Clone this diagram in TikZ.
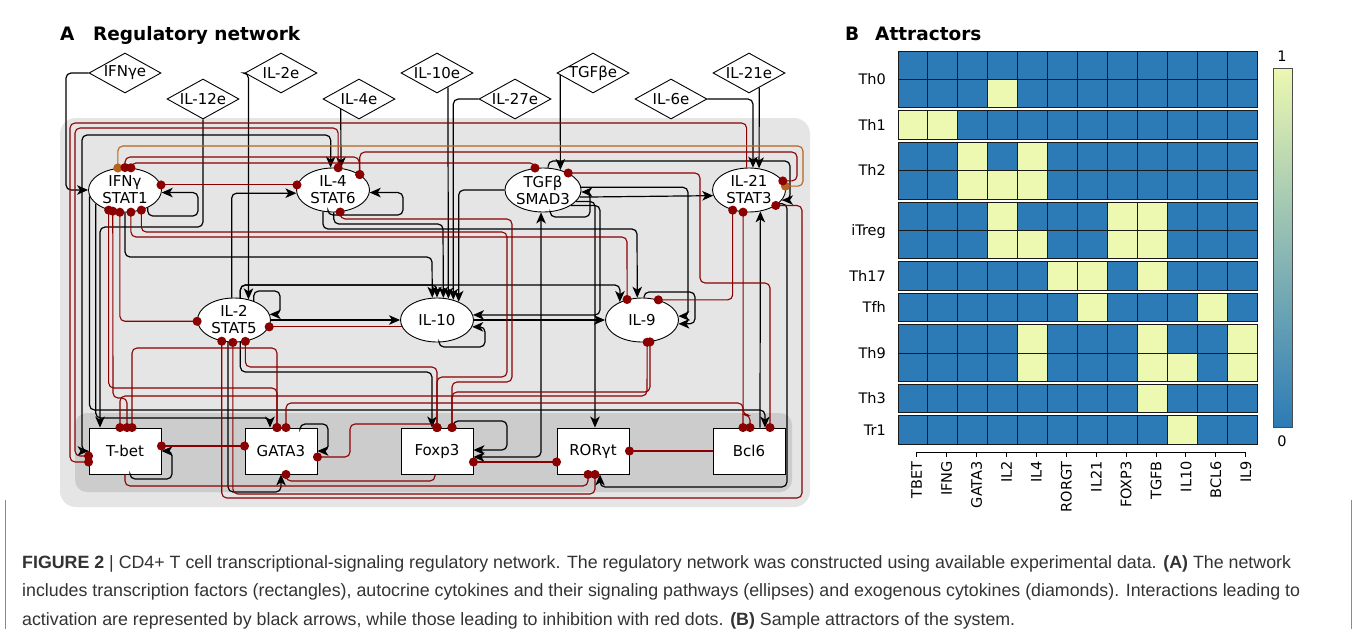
\documentclass[tikz,border=0pt]{standalone}
\usepackage{fontspec}
\setmainfont{DejaVu Sans}
\newfontfamily\capfont{Liberation Sans}
\usetikzlibrary{arrows.meta,shapes.geometric,calc}
\definecolor{inhred}{HTML}{8B0000}
\definecolor{orng}{HTML}{B5651D}
\definecolor{hblue}{RGB}{44,123,182}
\definecolor{hyel}{RGB}{237,248,177}
\definecolor{bgl}{RGB}{229,229,229}
\definecolor{bgd}{RGB}{204,204,204}
\definecolor{captxt}{RGB}{51,51,51}
\newcommand{\dlab}[1]{\makebox[40pt]{#1}}
\begin{document}
\begin{tikzpicture}[x=1pt,y=-1pt,
  >={Stealth[length=11pt,width=9.5pt,inset=3pt]},
  lab/.style={font=\fontsize{15}{17}\selectfont},
  ell/.style={ellipse,draw,line width=0.9pt,fill=white,minimum width=73pt,minimum height=44pt,inner sep=0pt,align=center,lab},
  rct/.style={rectangle,draw,line width=0.9pt,fill=white,minimum width=72pt,minimum height=46pt,inner sep=0pt,lab},
  dia/.style={diamond,draw,line width=0.9pt,fill=white,aspect=1.8,minimum width=72pt,minimum height=40pt,inner sep=0pt,lab},
  act/.style={draw=black,line width=1.2pt,rounded corners=5pt,->},
  actb/.style={act,<->},
  inh/.style={draw=inhred,line width=1.1pt,rounded corners=5pt,-{Circle[length=9pt]},shorten >=-4.5pt},
  inhb/.style={inh,{Circle[length=9pt]}-{Circle[length=9pt]},shorten <=-4.5pt},
  org/.style={inhb,draw=orng},
  hlab/.style={font=\fontsize{14.5}{16}\selectfont,inner sep=0pt},
  hgrid/.style={draw=black!90,line width=1pt},
  ttl/.style={anchor=base west,inner sep=0pt,font=\bfseries\fontsize{18.5}{20}\selectfont},
  captxtstyle/.style={anchor=base west,inner sep=0pt,text=captxt,font=\capfont\fontsize{17.8}{20}\selectfont}
]
\useasboundingbox (0,0) rectangle (1357,629);
\fill[white] (0,0) rectangle (1357,629);

% ---------- panel A background
\fill[bgl, rounded corners=16pt] (60,118) rectangle (810,507);
\fill[bgd, rounded corners=12pt] (75,413) rectangle (792,492);

% ---------- titles
\node[ttl] (tA) at (60,40.7) {A};
\node[ttl] (tAt) at (93,40.7) {Regulatory network};
\node[ttl] (tB) at (845,40.7) {B};
\node[ttl] (tBt) at (875,40.7) {Attractors};

% ---------- nodes
\node[dia] (ifnge) at (125,73) {\dlab{IFNγe}};
\node[dia] (il12e) at (203,99) {\dlab{IL-12e}};
\node[dia] (il2e)  at (281,73) {\dlab{IL-2e}};
\node[dia] (il4e)  at (359,99) {\dlab{IL-4e}};
\node[dia] (il10e) at (437,73) {\dlab{IL-10e}};
\node[dia] (il27e) at (515,99) {\dlab{IL-27e}};
\node[dia] (tgfbe) at (593,73) {\dlab{TGFβe}};
\node[dia] (il6e)  at (671,99) {\dlab{IL-6e}};
\node[dia] (il21e) at (749,73) {\dlab{IL-21e}};

\node[ell] (ifng) at (125,190) {IFNγ\\STAT1};
\node[ell] (il4)  at (333,190) {IL-4\\STAT6};
\node[ell] (tgfb) at (543,190) {TGFβ\\SMAD3};
\node[ell] (il21) at (749,190) {IL-21\\STAT3};
\node[ell] (il2)  at (234,320) {IL-2\\STAT5};
\node[ell] (il10) at (437,320) {IL-10};
\node[ell] (il9)  at (642,320) {IL-9};

\node[rct] (tbet)  at (125,451) {T-bet};
\node[rct] (gata3) at (281,451) {GATA3};
\node[rct] (foxp3) at (437,451) {Foxp3};
\node[rct] (rorgt) at (593,451) {RORγt};
\node[rct] (bcl6)  at (749,451) {Bcl6};

% ---------- activation edges
\draw[act] (ifnge.west) -- (66,73) -- (66,190) -- (ifng.west);
\draw[act] (il12e.south) -- (203,227) -- (100,227) -- ([xshift=-25pt]tbet.north);
\draw[act] (ifng.-38.6) |- (198,216) |- (ifng.-4.7);
\draw[act] (il2e.west) -| (il2.55.4);
\draw[act] (il4e.south west) -- (il4.70);
\draw[act] ($(il10e.south)!0.3!(il10e.east)$) -- (il10.62.3);
\draw[act] (il27e.west) -| (il10.51);
\draw[act] ($(tgfbe.west)!0.1!(tgfbe.south)$) -- (tgfb.49);
\draw[act] (il6e.east) -| (il21.80);
\draw[act] ($(il21e.south)!0.28!(il21e.east)$) -- (il21.65);
\draw[act] (il4.-103) |- (403,215) |- (il4.-4.7);
\draw[act] (il4.-115) |- (637,229) -- (il9.102.9);
\draw[act] (ifng.-90) |- (432,257) -- (il10.102.9);
\draw[actb] (il4.96) |- (82,135) |- (tbet.west);
\draw[act] (tgfb.77) |- (790,161) |- (il21.-17.1);
\draw[act] (ifng.-155) |- (270,418) -- ([xshift=-11pt]gata3.north);
\draw[act] (ifng.-170) |- (765,410) -- ([xshift=16pt]bcl6.north);
\draw[act] (il2.44.7) |- (280,291) |- (il2.9.7);
\draw[act] (il2.east) -- (il10.west);
\draw[act] (il2.74.5) |- (620,285) -- (il9.141.4);
\draw[act] (il2.74.5) |- (437,285) -- (il10.90);
\draw[act] (il2.-105.5) |- (281,492) -- (gata3.south);
\draw[act] (il2.-74.5) |- (432,372) -- ([xshift=-5pt]foxp3.north);
\draw[act] ([xshift=19pt]gata3.north) |- (328,424) |- (gata3.east);
\draw[act] ([xshift=5pt]tbet.south) |- (172,479) |- (tbet.east);
\draw[act] ([xshift=16pt]foxp3.north) |- (507,421) |- ([yshift=1pt]foxp3.east);
\draw[actb] (tgfb.-95) |- ([yshift=-6pt]foxp3.east);
\draw[act] (tgfb.-72) |- (590,217) |- (tgfb.-3);
\draw[act] (tgfb.-19.2) -| ([xshift=2pt]rorgt.north);
\draw[act] (tgfb.-11.4) -- (il21.189);
\draw[act] (il10.east) -- (il9.west);
\draw[act] (tgfb.-29.3) -| (600,315) -- (il10.8);
\draw[act] (il10.-85.3) |- (485,347) |- (il10.-11.4);
\draw[act] (tgfb.west) -| (il10.40.6);
\draw[act] (tgfb.4.7) -| (688,316) -- (il9.6.3);
\draw[act] (il9.85.3) |- (695,292) |- (il9.-6.3);
\draw[act] ([xshift=11pt]bcl6.north) -- (il21.-62.3);
\draw[act] (il21.-25) -| (787,487) -| ([xshift=7pt]rorgt.south);
\draw[act] (il2.96) |- (il4.185);
\draw[act] (il4.-88) |- (443,224) -- (il10.74.5);

% ---------- inhibition edges
\draw[inhb] (ifng.8) -- (il4.172);
\draw[inh] (il21.96) |- (70,123) |- ([yshift=-11pt]tbet.west);
\draw[inhb] (il4.77) |- (75,128) |- ([yshift=-5pt]tbet.west);
\draw[org] (ifng.108) |- (803,146) |- (il21.6.3);
\draw[inhb] (ifng.90) |- (359,157) -- (il4.30.7);
\draw[inhb] (il4.30.7) |- (797,152) |- (il21.15.1);
\draw[inhb] (ifng.75) |- (535,163) -- (tgfb.110.4);
\draw[inhb] (tgfb.34.6) -| (700,283) -| ([xshift=21pt]bcl6.north);
\draw[inhb] (ifng.-129) |- (277,388) -- ([xshift=-4pt]gata3.north);
\draw[inhb] (ifng.-103) |- (il2.182);
\draw[inhb] (ifng.-75) |- (627,237) -- (il9.126.8);
\draw[inhb] (ifng.-51) |- (507,232) |- (437,377) -- (foxp3.north);
\draw[inhb] (il4.-72) |- (512,219) |- (452,382) -- ([xshift=15pt]foxp3.north);
\draw[inhb] (il9.-70) |- (452,392) -- ([xshift=15pt]foxp3.north);
\draw[inhb] (il9.51) -| (il21.-129);
\draw[inhb] (il21.-105.5) |- (750,415) -- ([xshift=1pt]bcl6.north);
\draw[inhb] ([xshift=5pt]gata3.north) |- (743,403) -- ([xshift=-6pt]bcl6.north);
\draw[inhb] ([yshift=5pt]tbet.east) -- ([yshift=5pt]gata3.west);
\draw[inhb] ([yshift=-11pt]foxp3.east) -- ([yshift=-11pt]rorgt.west);
\draw[inh] (bcl6.west) -- (rorgt.east);
\draw[inhb] ([yshift=-6pt]gata3.east) -- (350,457) -- (350,424) -- (437,424) -- (foxp3.north);
\draw[inh] ([xshift=-2pt]foxp3.south) |- (286,481) -- ([xshift=5pt]gata3.south);
\draw[inh] (tbet.south) |- (588,486) -- ([xshift=-5pt]rorgt.south);
\draw[inhb] (il2.-120) |- (802,498) |- (il21.-30.7);
\draw[inhb] (il2.-93) |- (595,494) -- ([xshift=2pt]rorgt.south);
\draw[inhb] (il2.-62.3) |- (437,367) -- (foxp3.north);
\draw[inh] (il10.191.4) -- (il2.-11.4);
\draw[inhb] ([xshift=-5pt]tbet.north) |- (647,396) -- (il9.-77);
\draw[inhb] ([xshift=7pt]tbet.north) |- (277,348) -- ([xshift=-4pt]gata3.north);
\draw[inhb] (ifng.-120) -- (113,398) -| ([xshift=2pt]tbet.north);

% ---------- panel B heatmap
\foreach \t/\n in {51/2,110.8/1,142.2/2,202/2,261.8/1,293.2/1,324.6/2,384.4/1,415.8/1}{
  \fill[hblue] (898,\t) rectangle (1257,\t+\n*28.4);
}
\foreach \t/\c in {79.4/3, 110.8/0, 110.8/1, 142.2/2, 142.2/4, 170.6/2, 170.6/3, 170.6/4,
  202/3, 202/7, 202/8, 230.4/3, 230.4/4, 230.4/7, 230.4/8, 261.8/5, 261.8/6, 261.8/8,
  293.2/6, 293.2/10, 324.6/4, 324.6/8, 324.6/11, 353/4, 353/8, 353/9, 353/11, 384.4/8, 415.8/9}{
  \fill[hyel] (898+\c*29.92,\t) rectangle ++(29.92,28.4);
}
\foreach \t/\n in {51/2,110.8/1,142.2/2,202/2,261.8/1,293.2/1,324.6/2,384.4/1,415.8/1}{
  \foreach \i in {1,...,11}{\draw[hgrid] (898+\i*29.92,\t) -- ++(0,\n*28.4);}
  \ifnum\n=2 \draw[hgrid] (898,\t+28.4) -- ++(359,0);\fi
  \draw[hgrid] (898,\t) rectangle ++(359,\n*28.4);
}
\foreach \y/\s in {79.4/Th0,125/Th1,170.6/Th2,230.4/iTreg,276/Th17,307.4/Tfh,353/Th9,398.6/Th3,430/Tr1}{
  \node[hlab,anchor=base east] at (886,\y+5.3) {\s};
}
\draw[line width=1pt] (916.7,452) -- (1245.8,452);
\foreach \i/\s in {0/TBET,1/IFNG,2/GATA3,3/IL2,4/IL4,5/RORGT,6/IL21,7/FOXP3,8/TGFB,9/IL10,10/BCL6,11/IL9}{
  \draw[line width=1pt] (916.7+\i*29.92,452) -- ++(0,5);
  \node[hlab,rotate=90,anchor=east] at (916.7+\i*29.92,461) {\s};
}
\shade[bottom color=hblue, top color=hyel] (1273,68) rectangle (1292,427);
\draw[line width=0.8pt, black!70] (1273,68) rectangle (1292,427);
\node[hlab] (cb1) at (1282,56) {1};
\node[hlab] (cb0) at (1282,441) {0};

% ---------- caption
\draw[black!45, line width=1pt] (5,500) -- (5,629);
\draw[black!45, line width=1pt] (1351,500) -- (1351,629);
\node[captxtstyle] (c1) at (22,568) {\textbf{FIGURE 2} | CD4+ T cell transcriptional-signaling regulatory network. The regulatory network was constructed using available experimental data. \textbf{(A)} The network};
\node[captxtstyle] (c2) at (22,596.5) {includes transcription factors (rectangles), autocrine cytokines and their signaling pathways (ellipses) and exogenous cytokines (diamonds). Interactions leading to};
\node[captxtstyle] (c3) at (22,625) {activation are represented by black arrows, while those leading to inhibition with red dots. \textbf{(B)} Sample attractors of the system.};
\end{tikzpicture}
\end{document}
